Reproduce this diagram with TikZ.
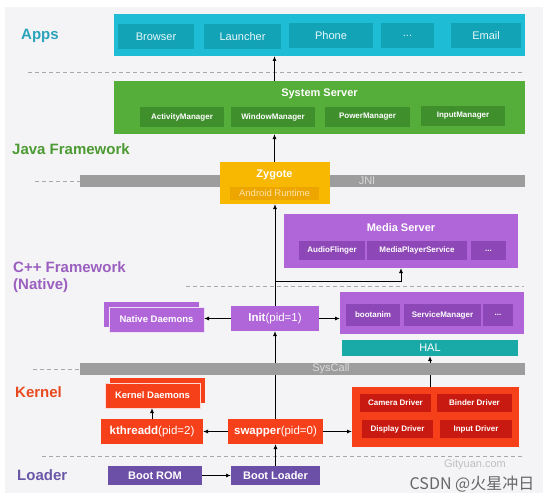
\documentclass[tikz,border=0pt]{standalone}
\usepackage{fontspec}
\setmainfont{Liberation Sans}
\newfontfamily\cjkfont{Noto Sans CJK SC}
\usetikzlibrary{arrows.meta}
\newcommand\fsz[1]{\fontsize{#1}{#1}\selectfont}
\definecolor{bgc}{HTML}{F4F4F6}
\definecolor{appc}{HTML}{1FBDD5}
\definecolor{appi}{HTML}{12A3B7}
\definecolor{appl}{HTML}{2AA3BC}
\definecolor{grc}{HTML}{55AE3A}
\definecolor{gri}{HTML}{3F8F2C}
\definecolor{grl}{HTML}{4C9A32}
\definecolor{yelc}{HTML}{F8B700}
\definecolor{yeli}{HTML}{EDA600}
\definecolor{yelt}{HTML}{FCE3A6}
\definecolor{purc}{HTML}{B066D8}
\definecolor{puri}{HTML}{8E47B6}
\definecolor{purl}{HTML}{9B5FC0}
\definecolor{halc}{HTML}{19A9A7}
\definecolor{redc}{HTML}{F5401A}
\definecolor{redi}{HTML}{C81A10}
\definecolor{redl}{HTML}{E84A1F}
\definecolor{ldrc}{HTML}{6C4FA6}
\definecolor{ldrl}{HTML}{6A57A8}
\definecolor{barc}{HTML}{9D9D9D}
\definecolor{bart}{HTML}{DADADA}
\definecolor{sepc}{HTML}{A8A8A8}
\pgfdeclarelayer{top}
\pgfsetlayers{main,top}
\tikzset{
  bx/.style={inner sep=0pt, outer sep=0pt, text=white, align=center},
  appin/.style={bx, fill=appi, minimum height=25pt, text=white!90!appc, font=\fsz{11}},
  grin/.style={bx, fill=gri, minimum height=20pt, font=\fsz{8}\bfseries},
  puin/.style={bx, fill=puri, minimum height=19pt, font=\fsz{8}\bfseries},
  rdin/.style={bx, fill=redi, minimum height=18pt, font=\fsz{8}\bfseries},
  barnode/.style={bx, fill=barc, minimum height=12pt},
  bartext/.style={inner sep=0pt, text=bart, font=\fsz{11}},
  lbl/.style={inner sep=0pt, anchor=west, font=\fsz{15}\bfseries},
  sepline/.style={sepc, dashed, dash pattern=on 4pt off 3pt, line width=0.9pt},
  arr/.style={-{Latex[length=5pt,width=4pt]}, line width=0.9pt, black},
}
\begin{document}
\begin{tikzpicture}[x=1pt,y=-1pt]
\useasboundingbox (0,0) rectangle (554,503);
\fill[white] (0,0) rectangle (554,503);
\fill[bgc] (5,7) rectangle (543,493);

% ---------- Apps ----------
\node[lbl, text=appl] (lapps) at (21,36) {Apps};
\node[bx, fill=appc, minimum width=411pt, minimum height=42pt] (apps) at (319.5,35) {};
\node[appin, minimum width=76pt] (browser) at (156,36.5) {Browser};
\node[appin, minimum width=77pt] (launcher) at (242.5,36.5) {Launcher};
\node[appin, minimum width=84pt] (phone) at (331,35.5) {Phone};
\node[appin, minimum width=53pt] (dots1) at (407.5,35.5) {...};
\node[appin, minimum width=70pt] (email) at (486,35.5) {Email};

\draw[sepline] (28,72) -- (525,72);

% ---------- Java Framework ----------
\node[bx, fill=grc, minimum width=411pt, minimum height=53pt] (sys) at (319.5,107.5) {};
\node[inner sep=0pt, text=white, font=\fsz{11}\bfseries] (syst) at (319.5,94) {System Server};
\node[grin, minimum width=84pt] (am) at (182,117) {ActivityManager};
\node[grin, minimum width=84pt] (wm) at (273,117) {WindowManager};
\node[grin, minimum width=85pt] (pm) at (367.5,117) {PowerManager};
\node[grin, minimum width=84pt] (im) at (463,116) {InputManager};
\node[lbl, text=grl] (ljava) at (12,149) {Java Framework};

% ---------- JNI / Zygote ----------
\draw[sepline] (35,181) -- (80,181);
\node[barnode, minimum width=445pt] (jni) at (302.5,181) {};
\node[bartext] (jnit) at (367,181) {JNI};
\node[bx, fill=yelc, minimum width=110pt, minimum height=42pt] (zyg) at (274.5,183) {};
\node[inner sep=0pt, text=white, font=\fsz{11}\bfseries] (zygt) at (274.5,175) {Zygote};
\node[bx, fill=yeli, minimum width=89pt, minimum height=13pt, text=yelt, font=\fsz{9.5}] (art) at (274.5,193.5) {Android Runtime};

% ---------- C++ Framework ----------
\node[bx, fill=purc, minimum width=234pt, minimum height=54pt] (media) at (401,241) {};
\node[inner sep=0pt, text=white, font=\fsz{11}\bfseries] (mediat) at (401,228) {Media Server};
\node[puin, minimum width=66pt] (af) at (332,250.5) {AudioFlinger};
\node[puin, minimum width=100pt] (mps) at (417,250.5) {MediaPlayerService};
\node[puin, minimum width=35pt] (dots2) at (488.5,250.5) {...};
\node[lbl, text=purl] (lcpp) at (13,267) {C++ Framework};
\node[lbl, text=purl] (lnat) at (13,286) {(Native)};
\draw[sepline] (186,286) -- (524,286);

\node[bx, fill=purc, minimum width=88pt, minimum height=25pt, font=\fsz{11.5}] (init) at (275,318.5) {\textbf{Init}(pid=1)};
\node[bx, fill=purc, minimum width=95pt, minimum height=25pt] (nd2) at (151.5,314.5) {};
\node[bx, fill=purc, draw=white!80!purc, line width=0.6pt, minimum width=95pt, minimum height=25pt, font=\fsz{9.5}\bfseries] (nd) at (156.5,319.5) {Native Daemons};
\node[bx, fill=purc, minimum width=184pt, minimum height=42pt] (rbox) at (432,313) {};
\node[puin, minimum width=54pt, minimum height=22pt] (boot) at (373,315) {bootanim};
\node[puin, minimum width=77pt, minimum height=22pt] (smgr) at (442.5,315) {ServiceManager};
\node[puin, minimum width=30pt, minimum height=22pt] (dots3) at (498,315) {...};

\node[bx, fill=halc, minimum width=176pt, minimum height=16pt, font=\fsz{11}] (hal) at (430,348) {HAL};

% ---------- Kernel ----------
\draw[sepline] (33,369) -- (80,369);
\begin{pgfonlayer}{top}
\node[barnode, minimum width=445pt] (sysc) at (302.5,369) {};
\node[bartext] (syst2) at (331,369) {SysCall};
\end{pgfonlayer}
\node[lbl, text=redl] (lker) at (15,392) {Kernel};
\node[bx, fill=redc, minimum width=95pt, minimum height=25pt] (kd2) at (157.5,390.5) {};
\node[bx, fill=redc, draw=white!80!redc, line width=0.6pt, minimum width=95pt, minimum height=25pt, font=\fsz{9.5}\bfseries] (kd) at (152.5,395.5) {Kernel Daemons};
\node[bx, fill=redc, minimum width=102pt, minimum height=25pt, font=\fsz{11.5}] (kth) at (152,431.5) {\textbf{kthreadd}(pid=2)};
\node[bx, fill=redc, minimum width=95pt, minimum height=25pt, font=\fsz{11.5}] (swap) at (275.5,431.5) {\textbf{swapper}(pid=0)};
\node[bx, fill=redc, minimum width=167pt, minimum height=60pt] (drv) at (435.5,417) {};
\node[rdin, minimum width=71pt] (cam) at (395.5,403) {Camera Driver};
\node[rdin, minimum width=75pt] (bind) at (474.5,403) {Binder Driver};
\node[rdin, minimum width=71pt] (disp) at (397.5,429) {Display Driver};
\node[rdin, minimum width=72pt] (inp) at (476,429) {Input Driver};

\draw[sepline] (42,456) -- (522,456);

% ---------- Loader ----------
\node[lbl, text=ldrl] (lldr) at (17,475) {Loader};
\node[bx, fill=ldrc, minimum width=94pt, minimum height=19pt, font=\fsz{11}\bfseries] (brom) at (155,475.5) {Boot ROM};
\node[bx, fill=ldrc, minimum width=89pt, minimum height=19pt, font=\fsz{11}\bfseries] (bl) at (275.5,475.5) {Boot Loader};

\node[inner sep=0pt, text=black!25, font=\fsz{11}] (gy) at (475,465) {Gityuan.com};
\node[inner sep=0pt, text=black!60, font=\cjkfont\fsz{16}] (csdn) at (472,484) {CSDN @火星冲日};

% ---------- Connectors ----------
\draw[arr] (zyg.north) -- (zyg.north |- sys.south);
\draw[arr] (zyg.north |- sys.north) -- (zyg.north |- apps.south);
\draw[arr] (init.north) -- (init.north |- zyg.south);
\path (init.north) ++(0,-25) coordinate (br);
\draw[arr] (br) -| (media.south);
\draw[arr] (init.west) -- (init.west -| nd.east);
\draw[arr] (init.east) -- (init.east -| rbox.west);
\draw[arr] (init.south |- swap.north) -- (init.south);
\draw[arr] (swap.west) -- (kth.east);
\draw[arr] (swap.east) -- (swap.east -| drv.west);
\draw[arr] (kth.north) -- (kth.north |- kd.south);
\draw[arr] (hal.south |- drv.north) -- (hal.south);
\draw[arr] (bl.north) -- (bl.north |- swap.south);
\draw[arr] (brom.east) -- (bl.west);
\end{tikzpicture}
\end{document}
